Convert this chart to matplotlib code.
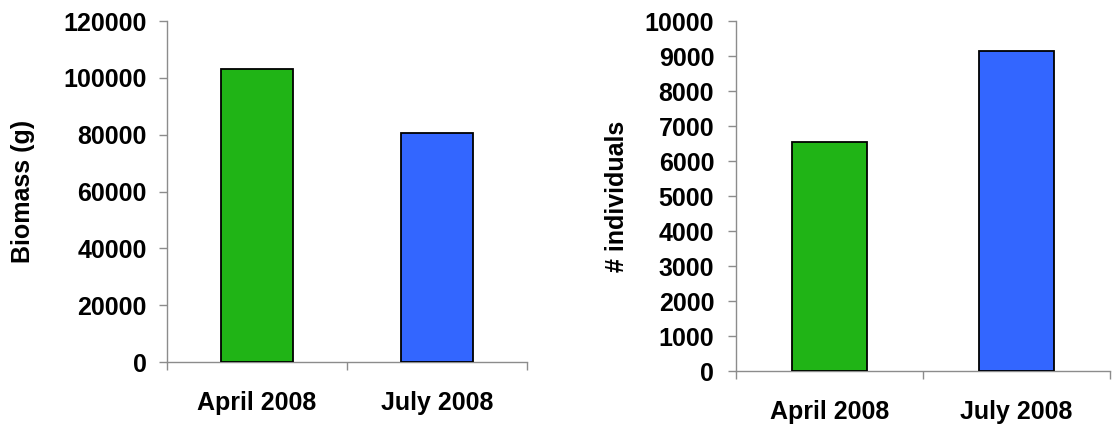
import numpy as np
import matplotlib
matplotlib.use("Agg")
import matplotlib.pyplot as plt

# ── Data ──────────────────────────────────────────────────────────────────────
categories = ["April 2008", "July 2008"]
biomass_g = [103000, 80600]
individuals = [6540, 9140]
bar_colors = ["#20B416", "#3366FF"]

biomass_ticks = [0, 20000, 40000, 60000, 80000, 100000, 120000]
individual_ticks = list(range(0, 10001, 1000))

plt.rcParams["font.family"] = ["Liberation Sans", "DejaVu Sans"]
plt.rcParams["font.weight"] = "bold"

AXIS_GREY = "#8c8c8c"
FS = 18


def draw_panel(ax, values, yticks, ylabel, ylabel_x, ypad):
    x = np.arange(len(categories))
    ax.bar(x, values, width=0.4, color=bar_colors, edgecolor="black",
           linewidth=1.3, zorder=3)
    ax.set_xlim(-0.5, len(categories) - 0.5)
    ax.set_ylim(yticks[0], yticks[-1])
    ax.set_yticks(yticks)
    ax.set_yticklabels([str(t) for t in yticks], fontsize=FS, fontweight="bold")

    # category labels sit between boundary ticks
    ax.set_xticks(x)
    ax.set_xticklabels(categories, fontsize=FS, fontweight="bold")
    ax.tick_params(axis="x", length=0, pad=21)
    ax.set_xticks(np.arange(len(categories) + 1) - 0.5, minor=True)
    ax.tick_params(axis="x", which="minor", length=5.8, color=AXIS_GREY,
                   width=1.0, direction="out")
    ax.tick_params(axis="y", length=5.8, color=AXIS_GREY, width=1.0,
                   direction="out", pad=ypad)

    for side in ("top", "right"):
        ax.spines[side].set_visible(False)
    for side in ("left", "bottom"):
        ax.spines[side].set_color(AXIS_GREY)
        ax.spines[side].set_linewidth(1.0)

    lab = ax.set_ylabel(ylabel, fontsize=FS, fontweight="bold")
    lab.set_va("center")
    ax.yaxis.set_label_coords(ylabel_x, 0.5)


fig = plt.figure(figsize=(11.12, 4.30), dpi=100)
ax1 = fig.add_axes([0.150, 0.158, 0.324, 0.793])
ax2 = fig.add_axes([0.662, 0.137, 0.336, 0.814])

draw_panel(ax1, biomass_g, biomass_ticks, "Biomass (g)", -0.40, 8.5)
draw_panel(ax2, individuals, individual_ticks, "# individuals", -0.318, 10)

fig.savefig("out.png", dpi=100, facecolor="white")
